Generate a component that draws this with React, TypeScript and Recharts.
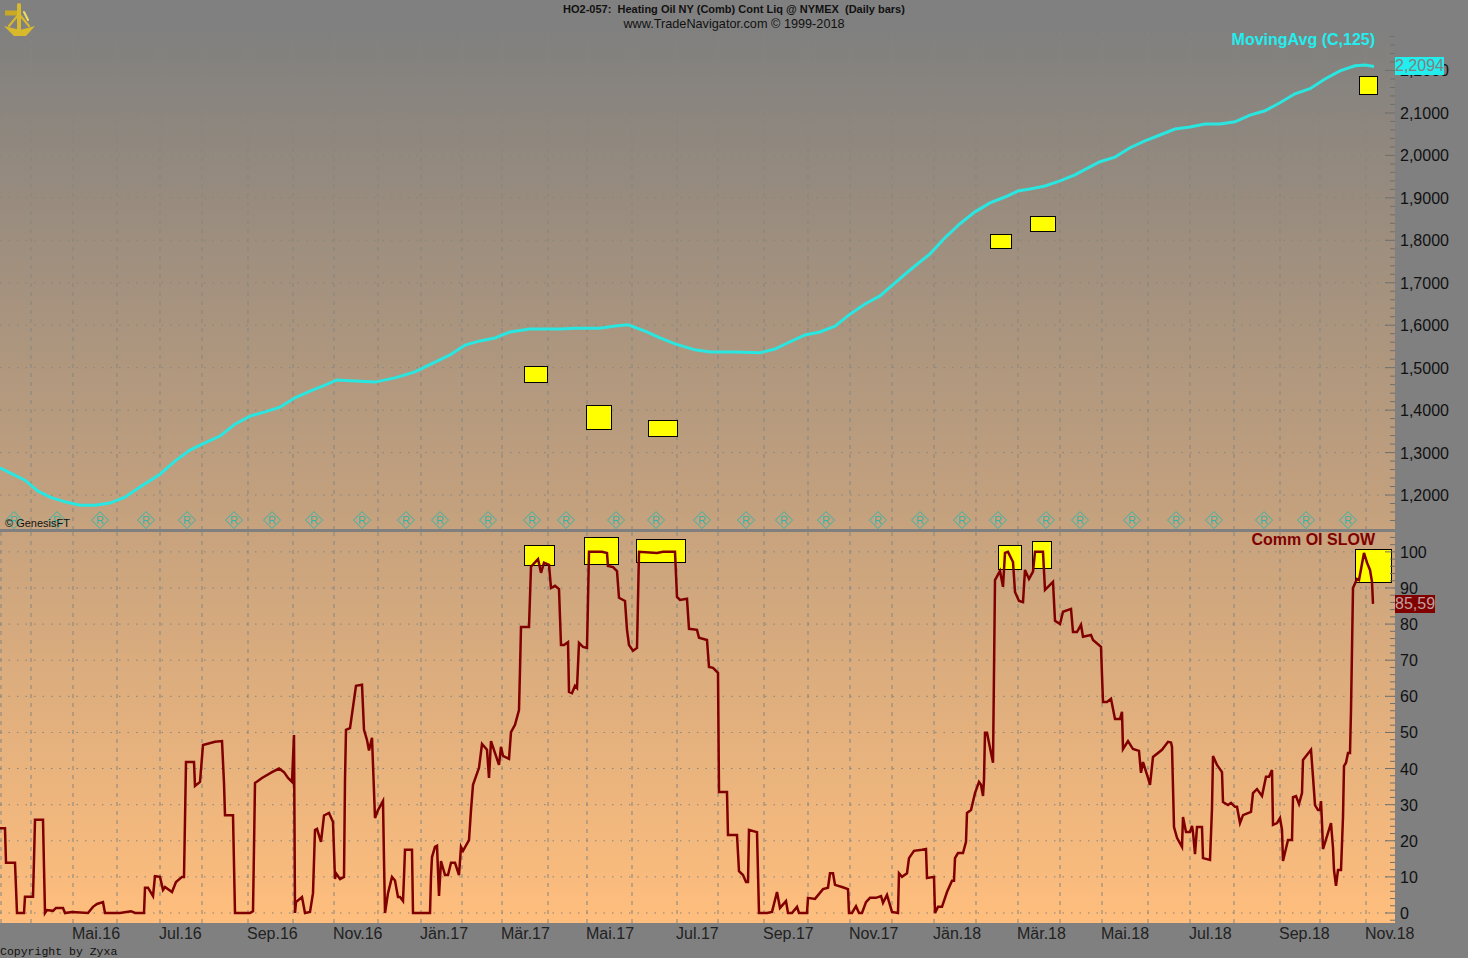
import React from 'react';
import {
  CartesianGrid,
  ComposedChart,
  Line,
  ReferenceArea,
  Scatter,
  XAxis,
  YAxis,
} from 'recharts';

// time axis unit: half a trading session, counted from the left edge of the chart
const TIME_DOMAIN: [number, number] = [0, 1395];

const monthTicks = [1, 31, 73, 117, 160, 202, 248, 293, 334, 378, 421, 462, 502, 548, 587, 632, 677, 718, 764, 808, 850, 892, 934, 976, 1018, 1060, 1102, 1148, 1190, 1234, 1280, 1320, 1366];
const monthLabels = ['', '', 'Mai.16', '', 'Jul.16', '', 'Sep.16', '', 'Nov.16', '', 'Jän.17', '', 'Mär.17', '', 'Mai.17', '', 'Jul.17', '', 'Sep.17', '', 'Nov.17', '', 'Jän.18', '', 'Mär.18', '', 'Mai.18', '', 'Jul.18', '', 'Sep.18', '', 'Nov.18'];

// MovingAvg (C,125)
const maTime = [0, 10, 25, 38, 50, 65, 80, 95, 110, 125, 140, 160, 175, 190, 205, 220, 235, 250, 265, 280, 295, 310, 325, 337, 350, 375, 395, 415, 435, 450, 465, 480, 495, 510, 530, 560, 575, 600, 615, 628, 645, 660, 675, 695, 710, 735, 760, 775, 790, 805, 820, 835, 850, 865, 880, 895, 910, 930, 945, 960, 975, 990, 1005, 1018, 1030, 1045, 1060, 1075, 1090, 1100, 1115, 1130, 1145, 1160, 1175, 1190, 1205, 1220, 1235, 1250, 1265, 1280, 1295, 1310, 1325, 1340, 1355, 1365, 1374];
const maValue = [1.264, 1.252, 1.235, 1.209, 1.195, 1.184, 1.176, 1.176, 1.181, 1.195, 1.219, 1.249, 1.28, 1.306, 1.323, 1.339, 1.367, 1.386, 1.396, 1.407, 1.429, 1.445, 1.459, 1.471, 1.469, 1.466, 1.476, 1.49, 1.513, 1.53, 1.553, 1.563, 1.57, 1.584, 1.591, 1.591, 1.593, 1.593, 1.598, 1.601, 1.586, 1.57, 1.556, 1.542, 1.537, 1.537, 1.535, 1.544, 1.561, 1.577, 1.584, 1.598, 1.626, 1.65, 1.669, 1.7, 1.73, 1.768, 1.806, 1.839, 1.867, 1.888, 1.902, 1.916, 1.921, 1.928, 1.94, 1.954, 1.973, 1.985, 1.996, 2.018, 2.034, 2.048, 2.062, 2.067, 2.074, 2.074, 2.079, 2.095, 2.105, 2.124, 2.145, 2.157, 2.18, 2.199, 2.211, 2.213, 2.2094];

// Comm OI SLOW
const oiTime = [0, 5, 6, 15, 16, 17, 24, 25, 33, 34, 35, 43, 44, 45, 47, 53, 56, 63, 65, 72, 88, 93, 97, 103, 105, 120, 131, 135, 144, 145, 148, 153, 155, 160, 163, 165, 172, 176, 182, 184, 185, 186, 194, 195, 200, 203, 215, 222, 224, 225, 233, 235, 250, 253, 254, 255, 262, 272, 279, 284, 288, 292, 294, 295, 296, 302, 305, 310, 313, 315, 317, 321, 324, 329, 333, 335, 336, 340, 344, 345, 346, 350, 356, 362, 364, 367, 369, 372, 375, 378, 383, 384, 385, 388, 392, 395, 398, 400, 403, 404, 405, 412, 413, 430, 431, 432, 435, 437, 439, 441, 445, 448, 451, 455, 459, 461, 463, 469, 471, 473, 479, 482, 487, 489, 491, 499, 501, 503, 509, 511, 515, 519, 520, 521, 529, 531, 538, 541, 544, 549, 551, 555, 559, 561, 564, 568, 569, 572, 575, 577, 579, 583, 587, 589, 595, 602, 607, 608, 613, 617, 619, 625, 627, 629, 633, 637, 639, 657, 663, 675, 677, 680, 687, 689, 697, 699, 707, 709, 713, 718, 719, 727, 728, 737, 739, 743, 746, 748, 749, 757, 759, 767, 772, 777, 780, 786, 788, 792, 797, 799, 807, 808, 815, 823, 828, 830, 833, 835, 842, 848, 849, 852, 856, 859, 862, 866, 870, 876, 881, 883, 887, 892, 898, 899, 902, 907, 909, 914, 922, 926, 927, 934, 935, 938, 942, 947, 952, 954, 955, 958, 963, 966, 967, 971, 975, 979, 981, 983, 984, 985, 987, 993, 994, 995, 1000, 1003, 1005, 1008, 1013, 1015, 1019, 1023, 1025, 1029, 1033, 1035, 1043, 1045, 1053, 1055, 1060, 1063, 1071, 1073, 1077, 1081, 1083, 1091, 1093, 1101, 1102, 1103, 1107, 1111, 1115, 1120, 1122, 1123, 1128, 1133, 1139, 1141, 1143, 1148, 1150, 1153, 1162, 1168, 1171, 1172, 1173, 1174, 1177, 1182, 1183, 1186, 1190, 1192, 1193, 1195, 1197, 1202, 1203, 1210, 1212, 1213, 1217, 1222, 1223, 1228, 1231, 1235, 1237, 1240, 1243, 1251, 1253, 1257, 1262, 1266, 1269, 1272, 1273, 1277, 1280, 1282, 1283, 1288, 1292, 1293, 1296, 1299, 1302, 1303, 1311, 1313, 1315, 1318, 1320, 1321, 1322, 1323, 1331, 1333, 1334, 1336, 1338, 1341, 1343, 1344, 1346, 1348, 1350, 1351, 1352, 1353, 1357, 1359, 1364, 1367, 1370, 1372, 1373];
const oiValue = [23.5, 23.5, 13.9, 13.9, 7, 0, 0, 4.5, 4.5, 14.7, 25.8, 25.8, 12.7, 0, 0.8, 0.6, 1.4, 1.4, 0, 0.3, 0, 1.7, 2.5, 3, 0, 0, 0.5, 0, 0, 7, 7, 4.7, 10.2, 10, 6.4, 7.2, 5.8, 8.6, 10, 10, 25.8, 41.8, 41.8, 35.2, 36.3, 46.5, 47.4, 47.6, 36, 27.1, 27.1, 0, 0, 0.5, 18, 36, 37.4, 39, 40, 39, 37.4, 36.3, 49.3, 0, 3, 4.4, 0, 0.3, 5.5, 23, 23.3, 19.7, 27, 27.7, 25.2, 9.4, 11, 9.4, 10, 36.8, 50.7, 51.2, 62.9, 63.2, 50.7, 47.9, 45, 48.5, 26.3, 28.5, 31, 14.7, 0, 5.5, 10, 9, 4.4, 4.4, 3.3, 10, 17.5, 17.5, 0, 0, 10, 15.5, 18.3, 18.6, 4.7, 14.4, 10.5, 10.5, 13.9, 13.9, 10.5, 18.3, 17.2, 20.2, 28.5, 35.5, 40.2, 46.8, 45.2, 37.4, 47.6, 41, 46, 43.5, 42.7, 50.1, 52.1, 56.2, 67.3, 79.2, 79.2, 95.9, 98, 94.2, 97, 96.4, 90, 90.6, 89.7, 74.2, 74.2, 75, 61.2, 60.9, 62.9, 62.3, 74.8, 73.7, 73.4, 100, 100, 100, 99.7, 96.1, 95.8, 94.7, 87.3, 86.4, 78.4, 74.2, 72.6, 73.4, 100, 99.7, 100, 100, 87.5, 86.7, 87, 78.7, 78.4, 76.2, 75.6, 68.1, 67.9, 66.5, 33.5, 33.5, 21.6, 21.6, 11.6, 10.5, 8.6, 8.6, 23, 22.4, 0, 0, 0.3, 5.8, 1.4, 3.3, 0, 0, 1.7, 0, 0, 4.2, 3.9, 6.6, 7, 11, 11, 7.8, 7.2, 6.6, 0, 0, 1.9, 0, 0, 3, 4.2, 4.2, 4.7, 2.8, 5, 0.3, 0, 11, 10, 11, 15.2, 17.2, 17.5, 17.7, 9.7, 10, 0, 1.7, 1.7, 5.8, 8.9, 8.9, 15.2, 16.6, 16.6, 19.7, 27.7, 28.5, 33.2, 36.3, 35.5, 32.4, 36.8, 49.9, 49.9, 41.6, 66.8, 92.2, 94.7, 90.3, 99.7, 100, 97.2, 88.9, 86.4, 86.1, 95, 92.5, 94.5, 100, 100, 89.5, 91.7, 80.9, 80, 83.4, 84.2, 77.8, 77.8, 79.8, 76.5, 77, 75.6, 73.7, 65.9, 58.4, 58.4, 59.3, 53.7, 53.7, 55.7, 45.4, 47.6, 45.4, 44.9, 38.8, 41.8, 37.4, 35.5, 43.2, 45.2, 47.4, 47.2, 46, 34.9, 23.8, 20.8, 18.3, 26.6, 22.4, 22.4, 24.1, 22.4, 16.3, 23.8, 23.8, 15.2, 14.7, 29, 43.5, 41, 39, 30.7, 29.9, 30.5, 29.4, 29.4, 24.9, 27.1, 28, 33.2, 34.3, 32.4, 37.7, 37.7, 39.6, 24.4, 24.9, 26.3, 23, 14.4, 20.2, 20.2, 32.1, 32.4, 30.2, 33.2, 42.4, 45.2, 37.7, 29.9, 28.5, 28.5, 31, 24.9, 17.7, 24.9, 18, 11.9, 7.5, 11.9, 11.9, 26.6, 40.7, 41.6, 44.3, 44.3, 56.2, 72.9, 90, 92.5, 92.2, 99.7, 97, 95, 91.7, 85.59];

// yellow signal boxes: [time from, time to, value from, value to]
const priceBoxes = [
  [524, 547, 1.4639, 1.5016],
  [586, 611, 1.3555, 1.412],
  [648, 677, 1.3367, 1.3767],
  [990, 1011, 1.7796, 1.8126],
  [1030, 1055, 1.8197, 1.855],
  [1359, 1377, 2.1425, 2.185],
];
const oiBoxes = [
  [524, 554, 96.1, 101.9],
  [584, 618, 96.4, 103.9],
  [636, 685, 97, 103.3],
  [998, 1021, 95, 101.9],
  [1032, 1051, 95.4, 102.8],
  [1355, 1391, 91.4, 100.6],
];

const rollTimes = [14, 57, 100, 146, 187, 234, 272, 314, 362, 406, 440, 488, 532, 566, 616, 656, 702, 746, 784, 826, 878, 920, 962, 998, 1046, 1080, 1132, 1176, 1214, 1264, 1306, 1348];
const ROLL_LEVEL = 1.141;

const priceMajor = [1.2, 1.3, 1.4, 1.5, 1.6, 1.7, 1.8, 1.9, 2.0, 2.1, 2.2];
const priceTicks = [1.14, 1.16, 1.18, 1.2, 1.22, 1.24, 1.26, 1.28, 1.3, 1.32, 1.34, 1.36, 1.38, 1.4, 1.42, 1.44, 1.46, 1.48, 1.5, 1.52, 1.54, 1.56, 1.58, 1.6, 1.62, 1.64, 1.66, 1.68, 1.7, 1.72, 1.74, 1.76, 1.78, 1.8, 1.82, 1.84, 1.86, 1.88, 1.9, 1.92, 1.94, 1.96, 1.98, 2.0, 2.02, 2.04, 2.06, 2.08, 2.1, 2.12, 2.14, 2.16, 2.18, 2.2, 2.22, 2.24, 2.26, 2.28];
const oiMajor = [0, 10, 20, 30, 40, 50, 60, 70, 80, 90, 100];
const oiTicks = [-2, 0, 2, 4, 6, 8, 10, 12, 14, 16, 18, 20, 22, 24, 26, 28, 30, 32, 34, 36, 38, 40, 42, 44, 46, 48, 50, 52, 54, 56, 58, 60, 62, 64, 66, 68, 70, 72, 74, 76, 78, 80, 82, 84, 86, 88, 90, 92, 94, 96, 98, 100, 102, 104];

const maData = maTime.map((t, i) => ({ t, v: maValue[i] }));
const oiData = oiTime.map((t, i) => ({ t, v: oiValue[i] }));
const rollData = rollTimes.map((t) => ({ t, v: ROLL_LEVEL }));

const FONT = '"Liberation Sans", Arial, sans-serif';
const GRID = '#85857f';
const TICK = '#6f6f6c';

function makeValueTick(major: number[], fmt: (v: number) => string) {
  return function ValueTick({ x, y, payload }: any) {
    const isMajor = major.some((m) => Math.abs(m - payload.value) < 1e-6);
    return (
      <g>
        <line x1={x - (isMajor ? 10 : 5)} x2={x} y1={y} y2={y} stroke={TICK} />
        {isMajor && (
          <text x={x + 5} y={y + 6} fontSize={16} fontFamily={FONT} fill="#111">
            {fmt(payload.value)}
          </text>
        )}
      </g>
    );
  };
}

const PriceTick = makeValueTick(priceMajor, (v) => v.toFixed(4).replace('.', ','));
const OiTick = makeValueTick(oiMajor, (v) => String(v));

function MonthTick({ x, y, payload }: any) {
  const label = monthLabels[monthTicks.indexOf(payload.value)];
  if (!label) return <g />;
  return (
    <text x={x - 1} y={y + 16} fontSize={16} fontFamily={FONT} fill="#222">
      {label}
    </text>
  );
}

function RollMark({ cx, cy }: any) {
  const r = 8.5;
  return (
    <g>
      <path
        d={`M${cx} ${cy - r}L${cx + r} ${cy}L${cx} ${cy + r}L${cx - r} ${cy}Z`}
        fill="none"
        stroke="#35b3a6"
      />
      <text x={cx} y={cy + 4} textAnchor="middle" fontSize={11} fontFamily={FONT} fill="#35b3a6">
        R
      </text>
    </g>
  );
}

function Boxes(boxes: number[][]) {
  return boxes.map((b, i) => (
    <ReferenceArea
      key={i}
      x1={b[0]}
      x2={b[1]}
      y1={b[2]}
      y2={b[3]}
      fill="#ffff00"
      fillOpacity={1}
      stroke="#000"
      strokeWidth={1}
      shapeRendering="crispEdges"
    />
  ));
}

const label = (style: React.CSSProperties): React.CSSProperties => ({
  position: 'absolute',
  whiteSpace: 'pre',
  fontFamily: FONT,
  lineHeight: 1,
  ...style,
});

function Sextant() {
  return (
    <svg width={36} height={36} style={{ position: 'absolute', left: 2, top: 2 }}>
      <path d="M2 24 L18 28 L33 24 L24 34 L12 34 Z" fill="#d9b92c" />
      <g fill="none" stroke="#d9b92c" strokeLinecap="round">
        <path d="M17 3 L17 30" strokeWidth={4} />
        <path d="M17 12 L7 24 M17 12 L27 24" strokeWidth={2} />
        <path d="M3 11 L15 11" strokeWidth={5} stroke="#c9a826" strokeLinecap="butt" />
        <path d="M22 10 L26 18" strokeWidth={2} stroke="#f0dc60" />
      </g>
    </svg>
  );
}

export default function App() {
  return (
    <div
      style={{
        position: 'absolute',
        left: 0,
        top: 0,
        width: 1468,
        height: 958,
        background: '#808080',
        overflow: 'hidden',
      }}
    >
      <div
        style={{
          position: 'absolute',
          left: 0,
          top: 31,
          width: 1395,
          height: 892,
          background: 'linear-gradient(#80807f, #ffbe7d)',
        }}
      />

      <div style={{ position: 'absolute', left: 0, top: 31 }}>
        <ComposedChart width={1468} height={498} margin={{ top: 0, right: 0, bottom: 0, left: 0 }}>
          <CartesianGrid
            vertical={false}
            horizontalValues={priceMajor}
            stroke={GRID}
            strokeDasharray="1.5 7"
          />
          <CartesianGrid
            horizontal={false}
            verticalValues={monthTicks}
            stroke={GRID}
            strokeDasharray="4 5"
          />
          <XAxis
            dataKey="t"
            type="number"
            domain={TIME_DOMAIN}
            ticks={monthTicks}
            hide
            allowDataOverflow
          />
          <YAxis
            dataKey="v"
            orientation="right"
            width={73}
            domain={[1.12, 2.293]}
            ticks={priceTicks}
            interval={0}
            axisLine={false}
            tickLine={false}
            tickSize={0}
            tickMargin={0}
            tick={PriceTick}
            allowDataOverflow
          />
          {Boxes(priceBoxes)}
          <Line
            data={maData}
            dataKey="v"
            type="linear"
            stroke="#2ae6e0"
            strokeWidth={3}
            dot={false}
            isAnimationActive={false}
          />
          <Scatter data={rollData} dataKey="v" shape={RollMark} isAnimationActive={false} />
        </ComposedChart>
      </div>

      <div style={{ position: 'absolute', left: 0, top: 532 }}>
        <ComposedChart width={1468} height={426} margin={{ top: 0, right: 0, bottom: 0, left: 0 }}>
          <CartesianGrid
            vertical={false}
            horizontalValues={oiMajor}
            stroke={GRID}
            strokeDasharray="1.5 7"
          />
          <CartesianGrid
            horizontal={false}
            verticalValues={monthTicks}
            stroke={GRID}
            strokeDasharray="4 5"
          />
          <XAxis
            dataKey="t"
            type="number"
            height={35}
            domain={TIME_DOMAIN}
            ticks={monthTicks}
            interval={0}
            axisLine={false}
            tickLine={false}
            tickSize={0}
            tickMargin={0}
            tick={MonthTick}
            allowDataOverflow
          />
          <YAxis
            dataKey="v"
            orientation="right"
            width={73}
            domain={[-2.77, 105.5]}
            ticks={oiTicks}
            interval={0}
            axisLine={false}
            tickLine={false}
            tickSize={0}
            tickMargin={0}
            tick={OiTick}
            allowDataOverflow
          />
          {Boxes(oiBoxes)}
          <Line
            data={oiData}
            dataKey="v"
            type="linear"
            stroke="#800000"
            strokeWidth={2.5}
            dot={false}
            isAnimationActive={false}
          />
        </ComposedChart>
      </div>

      <div style={{ position: 'absolute', left: 0, top: 529, width: 1395, height: 3, background: '#808080' }} />

      <Sextant />
      <div style={label({ left: 0, width: 1468, top: 4, textAlign: 'center', fontSize: 11, fontWeight: 700, color: '#111' })}>
        {'HO2-057:  Heating Oil NY (Comb) Cont Liq @ NYMEX  (Daily bars)'}
      </div>
      <div style={label({ left: 0, width: 1468, top: 18, textAlign: 'center', fontSize: 12.7, color: '#111' })}>
        www.TradeNavigator.com © 1999-2018
      </div>
      <div style={label({ right: 93, top: 32, fontSize: 16, fontWeight: 700, color: '#22eeee' })}>
        MovingAvg (C,125)
      </div>
      <div style={label({ right: 93, top: 532, fontSize: 16, fontWeight: 700, color: '#800000' })}>
        Comm OI SLOW
      </div>
      <div style={label({ left: 5, top: 518, fontSize: 11, color: '#111' })}>© GenesisFT</div>
      <div style={label({ left: 0, top: 946, fontSize: 11.5, fontFamily: '"Liberation Mono", monospace', color: '#111' })}>
        Copyright by Zyxa
      </div>
      <div style={label({ left: 1395, top: 57, width: 49, height: 18, lineHeight: '18px', background: '#22eeee', color: '#808080', fontSize: 16 })}>
        2,2094
      </div>
      <div style={label({ left: 1395, top: 595, width: 40, height: 18, lineHeight: '18px', background: '#800000', color: '#c0a0a0', fontSize: 16 })}>
        85,59
      </div>
    </div>
  );
}
